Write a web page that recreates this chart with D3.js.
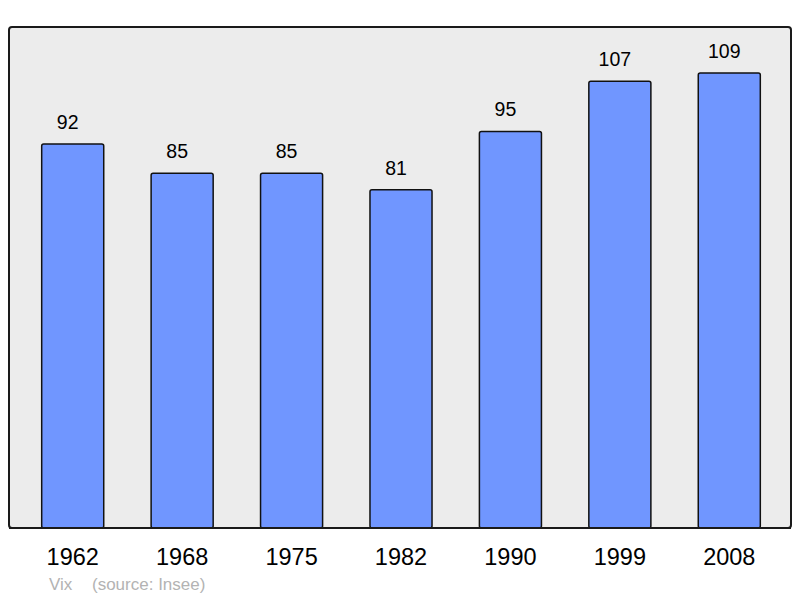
<!DOCTYPE html>
<html>
<head>
<meta charset="utf-8">
<script src="https://cdn.jsdelivr.net/npm/d3@7"></script>
<style>
  body { margin: 0; background: #fff; }
  text { font-family: "Liberation Sans", Arial, sans-serif; }
</style>
</head>
<body>
<svg width="800" height="598"></svg>
<script>
const years = ["1962", "1968", "1975", "1982", "1990", "1999", "2008"];
const population = [92, 85, 85, 81, 95, 107, 109];
const credits = ["Vix", "(source: Insee)"];

const svg = d3.select("svg");

const x = d3.scaleBand()
  .domain(years)
  .range([18, 784])
  .paddingInner(0.433)
  .paddingOuter(0.2165);

const y = d3.scaleLinear()
  .domain([0, 120])
  .range([528, 27]);

// panel
svg.append("rect")
  .attr("x", 9)
  .attr("y", 27)
  .attr("width", 782)
  .attr("height", 501)
  .attr("rx", 3)
  .style("fill", "#ececec")
  .style("stroke", "#1a1a1a")
  .style("stroke-width", 2);

const rows = years.map((yr, i) => ({ year: yr, value: population[i] }));

svg.selectAll(".bar")
  .data(rows)
  .enter()
  .append("rect")
  .classed("bar", true)
  .attr("x", d => x(d.year))
  .attr("y", d => y(d.value))
  .attr("width", x.bandwidth())
  .attr("height", d => y(0) - y(d.value))
  .attr("rx", 2)
  .style("fill", "#7096ff")
  .style("stroke", "#111")
  .style("stroke-width", 1.5);

// redraw bottom border over bar ends
svg.append("line")
  .attr("x1", 9).attr("x2", 791)
  .attr("y1", 528).attr("y2", 528)
  .style("stroke", "#1a1a1a")
  .style("stroke-width", 2);

svg.selectAll(".val")
  .data(rows)
  .enter()
  .append("text")
  .classed("val", true)
  .attr("x", d => x(d.year) + x.bandwidth() / 2 - 5)
  .attr("y", d => y(d.value) - 15)
  .attr("text-anchor", "middle")
  .style("font-size", "19.5px")
  .style("fill", "#000")
  .text(d => d.value);

const xAxis = d3.axisBottom(x).tickSize(0).tickPadding(0);
const gx = svg.append("g")
  .attr("transform", "translate(0,528)")
  .call(xAxis);
gx.select(".domain").remove();
gx.selectAll("text")
  .attr("y", 37)
  .attr("dy", null)
  .style("font-family", "Liberation Sans, Arial, sans-serif")
  .style("font-size", "23.5px")
  .style("fill", "#000");

svg.append("text")
  .attr("x", 49)
  .attr("y", 590)
  .style("font-size", "17px")
  .style("fill", "#b3b3b3")
  .text(credits[0]);

svg.append("text")
  .attr("x", 92)
  .attr("y", 590)
  .style("font-size", "17px")
  .style("fill", "#b3b3b3")
  .text(credits[1]);
</script>
</body>
</html>
